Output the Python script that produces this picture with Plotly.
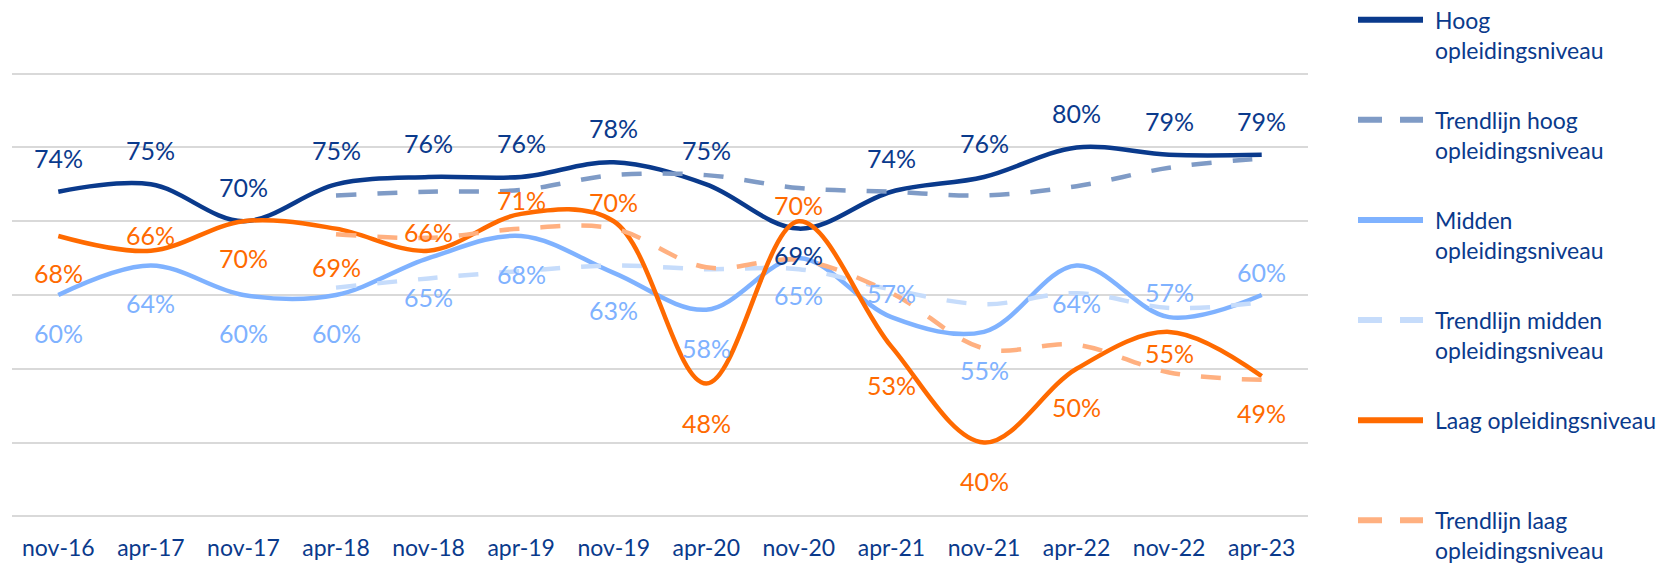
import plotly.graph_objects as go

periods = ["nov-16", "apr-17", "nov-17", "apr-18", "nov-18", "apr-19", "nov-19",
           "apr-20", "nov-20", "apr-21", "nov-21", "apr-22", "nov-22", "apr-23"]

hoog = [74, 75, 70, 75, 76, 76, 78, 75, 69, 74, 76, 80, 79, 79]
midden = [60, 64, 60, 60, 65, 68, 63, 58, 65, 57, 55, 64, 57, 60]
laag = [68, 66, 70, 69, 66, 71, 70, 48, 70, 53, 40, 50, 55, 49]

# trendlines start at apr-18
trend_hoog = [None, None, None, 73.5, 74, 74.25, 76.25, 76.25, 74.5, 74, 73.5, 74.75, 77.25, 78.5]
trend_midden = [None, None, None, 61, 62.25, 63.25, 64, 63.5, 63.5, 60.75, 58.75, 60.25, 58.25, 59]
trend_laag = [None, None, None, 68.25, 67.75, 69, 69, 63.75, 64.75, 60.25, 52.75, 53.25, 49.5, 48.5]

NAVY = "#0a3a8c"
C_HOOG = "#0a3a8c"
C_THOOG = "#7f9bc6"
C_MID = "#7fb2ff"
C_TMID = "#c6dcfb"
C_LAAG = "#ff6a00"
C_TLAAG = "#ffb080"
FONT = "Lato, sans-serif"

# label shift in px (positive = above the line, negative = below)
off_hoog = [34, 34, 34, 34, 34, 34, 34, 34, -26, 34, 34, 34, 34, 34]
off_mid = [-38, -38, -38, -38, -39, -38, -37, -38, -37, 24, -38, -38, 25, 23]
off_laag = [-37, 16, -37, -38, 19, 14, 19, -39, 16, -38, -38, -38, -21, -37]

series = [
    ("Hoog<br>opleidingsniveau", hoog, C_HOOG, "solid"),
    ("Trendlijn hoog<br>opleidingsniveau", trend_hoog, C_THOOG, "20px,21px"),
    ("Midden<br>opleidingsniveau", midden, C_MID, "solid"),
    ("Trendlijn midden<br>opleidingsniveau", trend_midden, C_TMID, "20px,21px"),
    ("Laag opleidingsniveau", laag, C_LAAG, "solid"),
    ("Trendlijn laag<br>opleidingsniveau", trend_laag, C_TLAAG, "20px,21px"),
]

fig = go.Figure()
for name, vals, col, dash in series:
    fig.add_trace(go.Scatter(
        x=periods, y=vals, mode="lines", name=name,
        line=dict(color=col, width=4.5, dash=dash, shape="spline", smoothing=1),
        connectgaps=False, showlegend=False, hoverinfo="skip"
    ))

annotations = []
for vals, offs, col in [(hoog, off_hoog, C_HOOG), (midden, off_mid, C_MID), (laag, off_laag, C_LAAG)]:
    for p, v, o in zip(periods, vals, offs):
        annotations.append(dict(
            x=p, y=v, xref="x", yref="y", text=f"{v}%", showarrow=False,
            yshift=o, font=dict(family=FONT, size=25, color=col)
        ))

# custom legend at the right side (pixel layout: plot area 12..1308 x, 70..520 y)
def px_x(px):
    return (px - 12) / 1296.0

def px_y(py):
    return (519.7 - py) / 449.4

shapes = []
for i, (name, vals, col, dash) in enumerate(series):
    py = 20 + 100 * i
    shapes.append(dict(
        type="line", xref="paper", yref="paper",
        x0=px_x(1358), x1=px_x(1423), y0=px_y(py), y1=px_y(py),
        line=dict(color=col, width=6, dash="solid" if dash == "solid" else "24px,18px")
    ))
    two = "<br>" in name
    annotations.append(dict(
        x=px_x(1433), y=px_y(py + (15 if two else 0)), xref="paper", yref="paper",
        xanchor="left", yanchor="middle", align="left", showarrow=False,
        text=name, font=dict(family=FONT, size=23, color=NAVY)
    ))

fig.update_layout(
    width=1676, height=563,
    margin=dict(l=12, r=368, t=70, b=43, autoexpand=False),
    paper_bgcolor="white", plot_bgcolor="white",
    font=dict(family=FONT, color=NAVY),
    showlegend=False,
    annotations=annotations,
    shapes=shapes,
    xaxis=dict(
        type="category", range=[-0.5, 13.5], showgrid=False, zeroline=False,
        showline=False, ticks="", ticklabelstandoff=12, automargin=False,
        tickfont=dict(family=FONT, size=23, color=NAVY)
    ),
    yaxis=dict(
        range=[29.5, 90.5], dtick=10, tick0=30, showgrid=True, gridcolor="#d9d9d9",
        gridwidth=1.5, zeroline=False, showticklabels=False, showline=False,
        automargin=False
    ),
)

# page body has a default 8px margin; remove it so the figure fills the window
fig.write_html("out.html", config={"displayModeBar": False},
               post_script="document.body.style.margin='0';")
